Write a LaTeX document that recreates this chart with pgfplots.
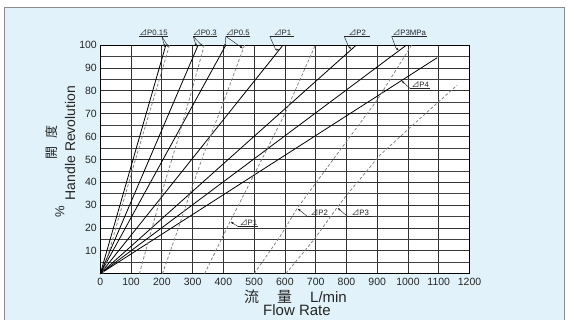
\documentclass[border=0pt]{standalone}
\usepackage{fontspec}
\setmainfont{Liberation Sans}
\newfontfamily\cjk{Noto Sans CJK JP}
\usepackage{pgfplots}
\pgfplotsset{compat=1.18}
\usetikzlibrary{arrows.meta}
\definecolor{bgblue}{HTML}{E1F2FA}
\definecolor{dashgray}{HTML}{808080}
\newcommand{\dP}{{\cjk ⊿}}
\tikzset{
  lbl/.style={font=\fontsize{7.8}{8}\selectfont, inner sep=0.6pt, anchor=south, text=black!85},
  ldr/.style={black!85, line width=0.45pt},
  arr/.style={black!85, line width=0.45pt, -{Latex[length=3pt,width=2.2pt]}},
}
\begin{document}
\begin{tikzpicture}[x=1pt,y=1pt]
\path[use as bounding box] (0,0) rectangle (567,320);
\fill[white] (0,0) rectangle (567,320);
\filldraw[fill=bgblue, draw=black!45, line width=0.8pt] (4,-2) rectangle (564,313);
\begin{axis}[
  at={(100.3pt,46.3pt)}, anchor=south west,
  scale only axis, width=369.2pt, height=228.6pt,
  xmin=0, xmax=1200, ymin=0, ymax=100,
  xtick={0,100,...,1200}, ytick={10,20,...,100},
  minor ytick={5,15,...,95},
  grid=both,
  major grid style={black!80, line width=0.75pt},
  minor grid style={black!75, line width=0.6pt},
  axis line style={black, line width=0.9pt},
  tick style={draw=none},
  axis background/.style={fill=white},
  ticklabel style={font=\fontsize{10.5}{12}\selectfont, text=black!85},
  xticklabel style={yshift=-1pt},
  /pgf/number format/assume math mode=true,
  /pgf/number format/1000 sep={},
  clip=false,
]
% solid lines
\addplot[black, line width=0.8pt] coordinates {(0,0) (213,100)};
\addplot[black, line width=0.8pt] coordinates {(0,0) (318,100)};
\addplot[black, line width=0.8pt] coordinates {(0,0) (408,100)};
\addplot[black, line width=0.8pt] coordinates {(0,0) (594,100)};
\addplot[black, line width=0.8pt] coordinates {(0,0) (832,100)};
\addplot[black, line width=0.8pt] coordinates {(0,0) (995,100)};
\addplot[black, line width=0.8pt] coordinates {(0,0) (1095,94.5)};
% dashed curves
\addplot[dashgray, line width=0.75pt, dash pattern=on 3pt off 2pt] coordinates {(8,0) (110,48) (225,100)};
\addplot[dashgray, line width=0.75pt, dash pattern=on 3pt off 2pt] coordinates {(127,0) (168,20) (210,40) (255,60) (297,80) (338,100)};
\addplot[dashgray, line width=0.75pt, dash pattern=on 3pt off 2pt] coordinates {(202,0) (248,17.7) (291,35) (335,52) (400,75) (469,100)};
\addplot[dashgray, line width=0.75pt, dash pattern=on 3pt off 2pt] coordinates {(339,0) (421,22.6) (510,46) (600,70) (699,100)};
\addplot[dashgray, line width=0.75pt, dash pattern=on 3pt off 2pt] coordinates {(500,0) (584,16.2) (640,28.6) (768,52) (900,76) (1012,100)};
\addplot[dashgray, line width=0.75pt, dash pattern=on 3pt off 2pt] coordinates {(603,0) (698,15.5) (770,29) (801,34.4) (909,51.9) (1040,68) (1160,82.5)};
% top labels
\draw[ldr] (axis cs:126,103.8) -- (axis cs:220,103.8);
\node[lbl] at (axis cs:173,103.8) {\dP P0.15};
\draw[arr] (axis cs:200,103.8) -- (axis cs:210,99);
\draw[arr] (axis cs:200,103.8) -- (axis cs:222,99);
\draw[ldr] (axis cs:301,103.8) -- (axis cs:379,103.8);
\node[lbl] at (axis cs:340,103.8) {\dP P0.3};
\draw[arr] (axis cs:302,103.8) -- (axis cs:313,99.3);
\draw[arr] (axis cs:302,103.8) -- (axis cs:334,99.3);
\draw[ldr] (axis cs:408,103.8) -- (axis cs:486,103.8);
\node[lbl] at (axis cs:447,103.8) {\dP P0.5};
\draw[arr] (axis cs:408,103.8) -- (axis cs:405,99);
\draw[arr] (axis cs:408,103.8) -- (axis cs:464,98.5);
\draw[ldr] (axis cs:551,103.8) -- (axis cs:629,103.8);
\node[lbl] at (axis cs:592,103.8) {\dP P1};
\draw[arr] (axis cs:551,103.8) -- (axis cs:570,98) -- (axis cs:582,98);
\draw[ldr] (axis cs:793,103.8) -- (axis cs:877,103.8);
\node[lbl] at (axis cs:835,103.8) {\dP P2};
\draw[arr] (axis cs:793,103.8) -- (axis cs:806,99.6) -- (axis cs:816,98.2);
\draw[ldr] (axis cs:947,103.8) -- (axis cs:1061,103.8);
\node[lbl] at (axis cs:1004,103.8) {\dP P3MPa};
\draw[arr] (axis cs:947,103.8) -- (axis cs:960,99) -- (axis cs:970,97.6);
% P4
\draw[ldr] (axis cs:1007,81) -- (axis cs:1072,81);
\node[lbl] at (axis cs:1040,81) {\dP P4};
\draw[arr] (axis cs:1007,81) -- (axis cs:979,84.4);
% bottom labels
\draw[ldr] (axis cs:448,20.6) -- (axis cs:513,20.6);
\node[lbl] at (axis cs:482,20.6) {\dP P1};
\draw[arr] (axis cs:448,20.6) -- (axis cs:423,22.8);
\draw[ldr] (axis cs:672,25.2) -- (axis cs:747,25.2);
\node[lbl] at (axis cs:712,25.2) {\dP P2};
\draw[arr] (axis cs:672,25.2) -- (axis cs:641,28.5);
\draw[ldr] (axis cs:802,25.2) -- (axis cs:883,25.2);
\node[lbl] at (axis cs:845,25.2) {\dP P3};
\draw[arr] (axis cs:802,25.2) -- (axis cs:771,28.8);
\end{axis}
% axis titles
\node[rotate=90, font=\fontsize{14}{16}\selectfont, text=black!85] at (70,177) {Handle Revolution};
\node[rotate=90, font=\fontsize{13}{15}\selectfont\cjk, text=black!85] at (52,177.5) {開\hspace{0.6em}度};
\node[rotate=90, font=\fontsize{13}{15}\selectfont, text=black!85] at (60,108) {\%};
\node[font=\fontsize{15}{17}\selectfont\cjk, text=black!85] at (251.5,23.3) {流};
\node[font=\fontsize{15}{17}\selectfont\cjk, text=black!85] at (284.5,23.3) {量};
\node[font=\fontsize{15}{17}\selectfont, text=black!85] at (328.5,23.3) {L/min};
\node[font=\fontsize{15}{17}\selectfont, text=black!85] at (297,9.5) {Flow Rate};
\end{tikzpicture}
\end{document}
